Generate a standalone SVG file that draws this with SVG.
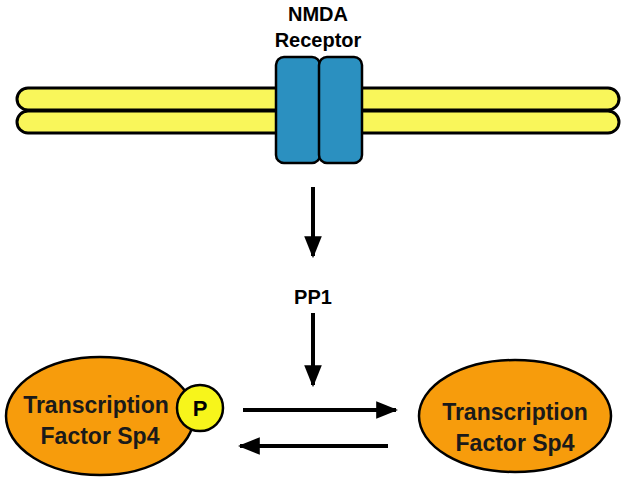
<svg xmlns="http://www.w3.org/2000/svg" width="622" height="490" viewBox="0 0 622 490">
<defs>
<marker id="ah" viewBox="0 0 10 10" refX="9" refY="5" markerWidth="5.5" markerHeight="5.5" orient="auto"><path d="M0,1 L10,5 L0,9 z" fill="#000"/></marker>
<style>
text{font-family:"Liberation Sans",Arial,sans-serif;font-weight:bold;text-anchor:middle;fill:#000}
.t{font-size:20px}
.tf{font-size:23px;fill:#1a1a1a}
.tube{fill:#f9f65a;stroke:#000;stroke-width:3}
.rec{fill:#2b90c0;stroke:#000;stroke-width:2.5}
.ell{fill:#f79c0c;stroke:#000;stroke-width:2.5}
.c{stroke:#000;stroke-width:4;fill:none;marker-end:url(#ah)}
</style>
</defs>
<g id="membrane">
<rect class="tube" x="17" y="88" width="602" height="22" rx="11"/>
<rect class="tube" x="17" y="111" width="602" height="22" rx="11"/>
</g>
<g id="receptor">
<rect class="rec" x="276" y="57" width="44" height="106" rx="8"/>
<rect class="rec" x="319" y="57" width="43" height="106" rx="8"/>
<text class="t" x="318" y="21">NMDA</text>
<text class="t" x="318" y="47">Receptor</text>
</g>
<g id="pp1"><text class="t" x="313" y="304">PP1</text></g>
<g id="sp4p">
<ellipse class="ell" cx="100" cy="416" rx="94" ry="59"/>
<circle cx="200" cy="408" r="23" fill="#f7f51b" stroke="#000" stroke-width="2.5"/>
<text class="t" x="200" y="416" style="font-size:22px">P</text>
<text class="tf" x="96" y="413">Transcription</text>
<text class="tf" x="100" y="444">Factor Sp4</text>
</g>
<g id="sp4">
<ellipse class="ell" cx="515" cy="416" rx="96" ry="56"/>
<text class="tf" x="515" y="420">Transcription</text>
<text class="tf" x="515" y="451">Factor Sp4</text>
</g>
<g id="connectors">
<path class="c" d="M313,187 V256"/>
<path class="c" d="M313,313 V385"/>
<path class="c" d="M243,410 H396"/>
<path class="c" d="M388,446 H240"/>
</g>
</svg>
